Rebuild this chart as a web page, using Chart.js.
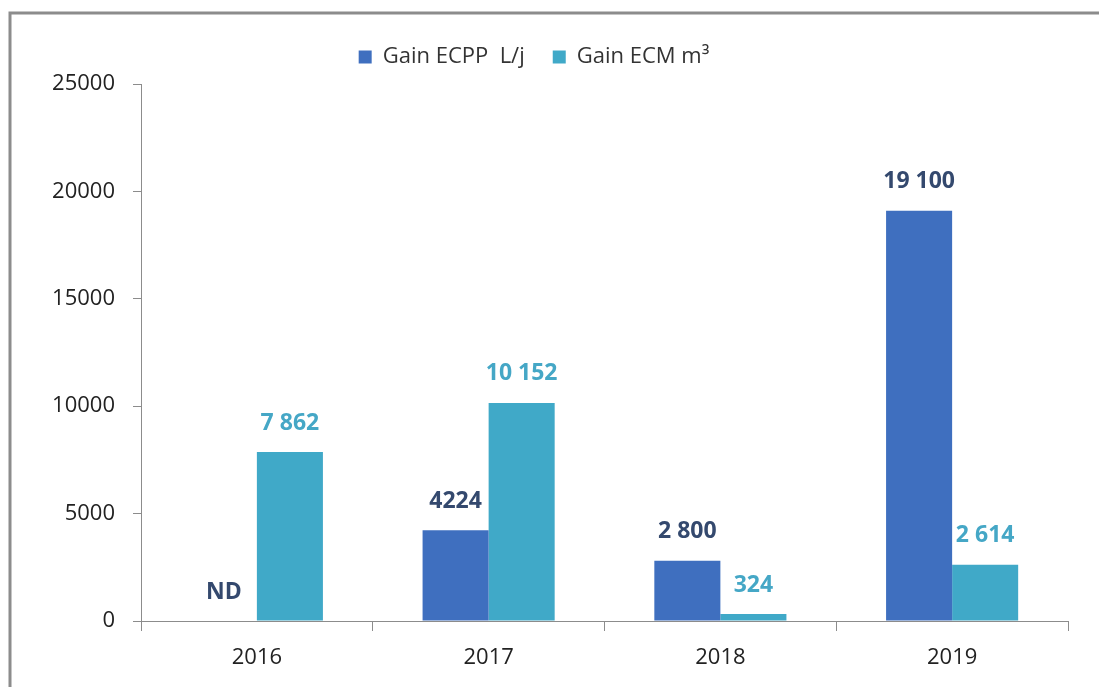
<!DOCTYPE html>
<html>
<head>
<meta charset="utf-8">
<script src="https://cdn.jsdelivr.net/npm/chart.js@4"></script>
<style>
  html, body { margin: 0; padding: 0; background: #fff; }
  #wrap { width: 1099px; height: 687px; position: relative; }
</style>
</head>
<body>
<div id="wrap"><canvas id="my-chart" width="1099" height="687"></canvas></div>
<script>
const years = ["2016", "2017", "2018", "2019"];
const ecppValues = [null, 4224, 2800, 19100];
const ecmValues = [7862, 10152, 324, 2614];
const ecppLabels = ["ND", "4224", "2 800", "19 100"];
const ecmLabels = ["7 862", "10 152", "324", "2 614"];
const yTicks = [0, 5000, 10000, 15000, 20000, 25000];

const fontFamily = "'Open Sans', 'Noto Sans', sans-serif";

// frame around the picture
const framePlugin = {
    id: "frame",
    beforeDraw(chart) {
        const ctx = chart.ctx;
        ctx.save();
        ctx.fillStyle = "#fff";
        ctx.fillRect(0, 0, chart.width, chart.height);
        ctx.strokeStyle = "#8c8c8c";
        ctx.lineWidth = 3;
        ctx.beginPath();
        ctx.moveTo(10, chart.height);
        ctx.lineTo(10, 13);
        ctx.lineTo(chart.width, 13);
        ctx.stroke();
        ctx.restore();
    }
};

// a bit more room under the legend
const legendGap = {
    id: "legendGap",
    afterInit(chart) {
        const legend = chart.legend;
        if (!legend) return;
        const fit = legend.fit;
        legend.fit = function () {
            fit.call(this);
            this.height += 6;
        };
    }
};

// value labels above bars
const valueLabels = {
    id: "valueLabels",
    afterDatasetsDraw(chart) {
        const ctx = chart.ctx;
        const yScale = chart.scales.y;
        ctx.save();
        ctx.font = "bold 23px " + fontFamily;
        ctx.textAlign = "center";
        ctx.textBaseline = "middle";
        const sets = [
            { labels: ecppLabels, color: "#34496e" },
            { labels: ecmLabels, color: "#45a7c6" },
        ];
        sets.forEach((s, di) => {
            const meta = chart.getDatasetMeta(di);
            meta.data.forEach((bar, i) => {
                const v = chart.data.datasets[di].data[i];
                const top = v == null ? yScale.getPixelForValue(0) : bar.y;
                ctx.fillStyle = s.color;
                ctx.fillText(s.labels[i], bar.x, top - 29);
            });
        });
        ctx.restore();
    }
};

new Chart(document.getElementById("my-chart"), {
    type: "bar",
    data: {
        labels: years,
        datasets: [
            {
                label: "Gain ECPP  L/j",
                data: ecppValues,
                backgroundColor: "#3f6fbf",
            },
            {
                label: "Gain ECM m\u00b3",
                data: ecmValues,
                backgroundColor: "#40a9c8",
            },
        ],
    },
    options: {
        responsive: false,
        animation: false,
        layout: { padding: { top: 18, left: 0, right: 31, bottom: 0 } },
        datasets: {
            bar: { categoryPercentage: 0.57, barPercentage: 1.0 }
        },
        plugins: {
            legend: {
                display: true,
                position: "top",
                labels: {
                    boxWidth: 13,
                    boxHeight: 13,
                    padding: 28,
                    color: "#333",
                    font: { family: fontFamily, size: 22 },
                },
            },
            tooltip: { enabled: false },
        },
        scales: {
            x: {
                grid: { display: true, drawOnChartArea: false, drawTicks: true, tickLength: 10, color: "#8c8c8c", offset: true },
                border: { display: true, color: "#8c8c8c" },
                ticks: { color: "#222", font: { family: fontFamily, size: 22 }, padding: 14 },
                afterFit(scale) { scale.height = 66; },
            },
            y: {
                min: 0,
                max: 25000,
                afterBuildTicks(scale) { scale.ticks = yTicks.map(v => ({ value: v })); },
                grid: { display: true, drawOnChartArea: false, drawTicks: true, tickLength: 8, color: "#8c8c8c" },
                border: { display: true, color: "#8c8c8c" },
                ticks: {
                    color: "#222",
                    font: { family: fontFamily, size: 22 },
                    padding: 18,
                    callback: (v) => String(v),
                },
                afterFit(scale) { scale.width = 141; },
            },
        },
    },
    plugins: [framePlugin, legendGap, valueLabels],
});
</script>
</body>
</html>
